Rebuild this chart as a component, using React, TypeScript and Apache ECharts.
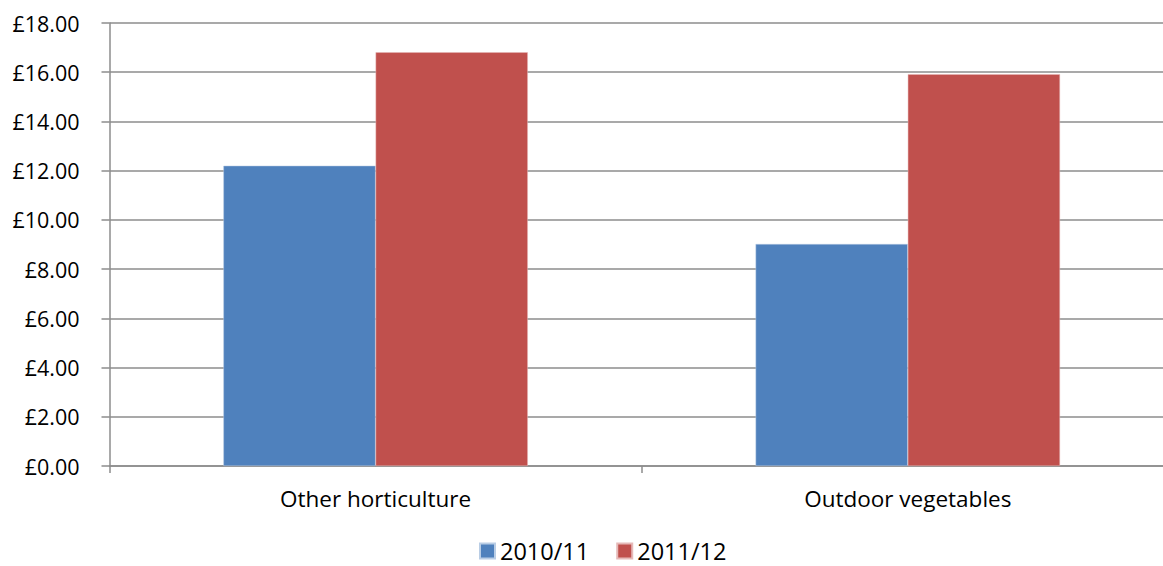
import React, { useEffect, useRef } from "react";
import * as echarts from "echarts";

const categories = ["Other horticulture", "Outdoor vegetables"];
const seriesNames = ["2010/11", "2011/12"];
const values2010 = [12.2, 9.02];
const values2011 = [16.81, 15.92];
const colors = ["#4F81BD", "#C0504D"];

const FONT = "'Open Sans', 'Noto Sans', 'Liberation Sans', sans-serif";

export default function App() {
  const ref = useRef<HTMLDivElement>(null);
  useEffect(() => {
    if (!ref.current) return;
    const chart = echarts.init(ref.current, null, { renderer: "svg" });
    chart.setOption({
      animation: false,
      textStyle: { fontFamily: FONT },
      grid: { left: 109.5, right: 1.1, top: 23, height: 443, containLabel: false },
      legend: {
        top: 539,
        left: 479,
        padding: 0,
        itemWidth: 15,
        itemHeight: 15,
        itemGap: 27,
        icon: "rect",
        textStyle: { fontSize: 23.5, lineHeight: 24, color: "#000", fontFamily: FONT },
        data: seriesNames,
      },
      xAxis: {
        type: "category",
        data: categories,
        axisLine: { lineStyle: { color: "#8c8c8c", width: 1.5 } },
        axisTick: { show: true, length: 7, inside: false, lineStyle: { color: "#8c8c8c", width: 1.5 } },
        axisLabel: { color: "#000", fontSize: 22.5, margin: 21, fontFamily: FONT },
      },
      yAxis: {
        type: "value",
        min: 0,
        max: 18,
        interval: 2,
        axisLine: { show: true, lineStyle: { color: "#8c8c8c", width: 1.5 } },
        axisTick: { show: true, length: 8, lineStyle: { color: "#8c8c8c", width: 1.5 } },
        splitLine: { lineStyle: { color: "#8c8c8c", width: 1.5 } },
        axisLabel: {
          color: "#000",
          fontSize: 21.5,
          margin: 30,
          fontFamily: FONT,
          formatter: (v: number) => "£" + v.toFixed(2),
        },
      },
      series: [
        {
          name: seriesNames[0],
          type: "bar",
          data: values2010,
          barWidth: "28.6%",
          barGap: "0%",
          itemStyle: { color: colors[0], borderColor: "#b9cde5", borderWidth: 0.5 },
        },
        {
          name: seriesNames[1],
          type: "bar",
          data: values2011,
          barWidth: "28.6%",
          barGap: "0%",
          itemStyle: { color: colors[1], borderColor: "#e6b9b8", borderWidth: 0.5 },
        },
      ],
    });
    return () => chart.dispose();
  }, []);
  return (
    <div
      style={{ position: "fixed", left: 0, top: 0, width: 1163, height: 566, overflow: "hidden", background: "#fff" }}
    >
      <div ref={ref} style={{ width: 1175, height: 566 }} />
    </div>
  );
}
